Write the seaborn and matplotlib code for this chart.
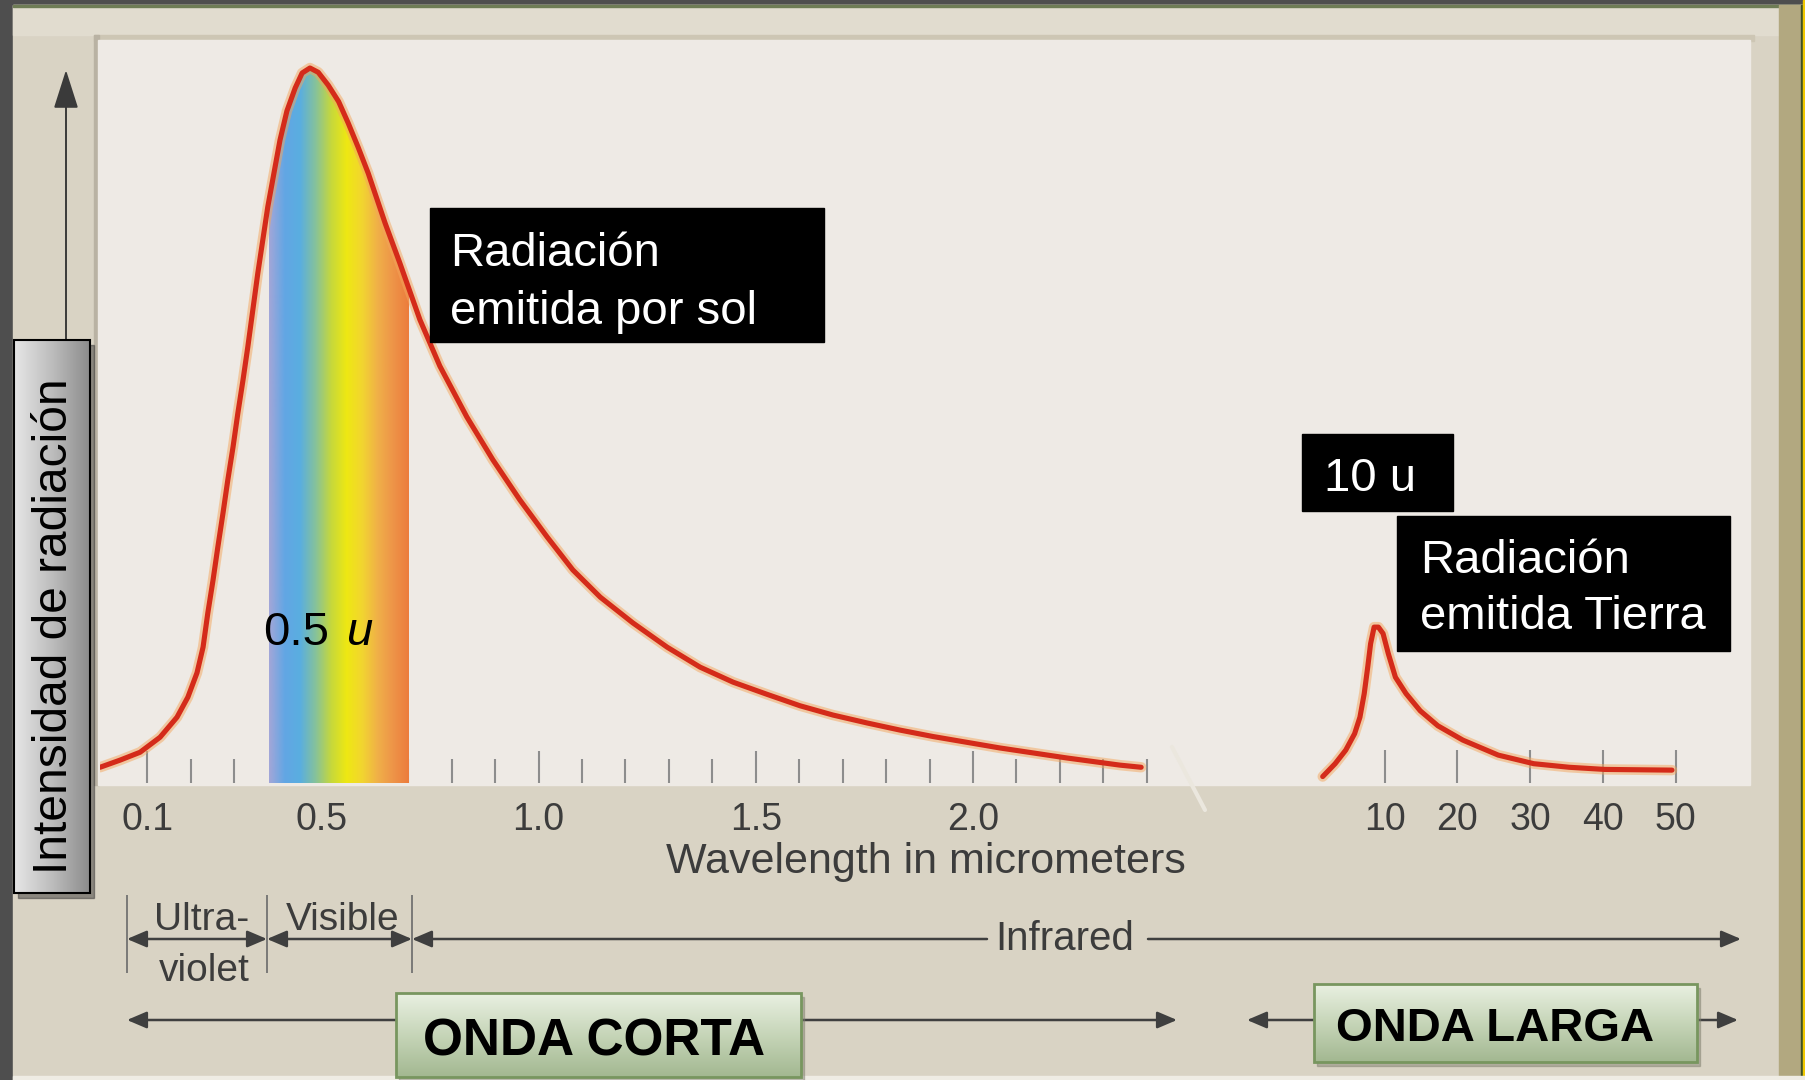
import numpy as np
import pandas as pd
import matplotlib.pyplot as plt
import seaborn as sns
from matplotlib.colors import LinearSegmentedColormap
from matplotlib.patches import Rectangle

# Sun emission curve: wavelength (micrometers) vs relative intensity
sun_wavelength = [-0.009, 0.037, 0.083, 0.129, 0.168, 0.193, 0.214, 0.228, 0.239, 0.251,
                  0.262, 0.274, 0.285, 0.297, 0.308, 0.320, 0.331, 0.354, 0.377, 0.405,
                  0.421, 0.440, 0.456, 0.474, 0.493, 0.516, 0.540, 0.562, 0.585, 0.608,
                  0.647, 0.681, 0.727, 0.773, 0.835, 0.895, 0.957, 1.020, 1.079, 1.142,
                  1.217, 1.296, 1.372, 1.448, 1.526, 1.602, 1.678, 1.756, 1.832, 1.908,
                  2.062, 2.216, 2.338, 2.387]
sun_intensity = [2.2, 3.2, 4.3, 6.4, 9.2, 12.0, 15.4, 19.0, 23.8, 28.4,
                 33.0, 37.8, 42.4, 47.0, 51.7, 56.4, 61.0, 71.3, 80.6, 89.9,
                 94.0, 97.2, 99.3, 100.0, 99.4, 97.6, 95.3, 92.3, 88.9, 85.3,
                 78.3, 72.7, 64.8, 58.3, 51.2, 45.2, 39.6, 34.4, 29.8, 26.0,
                 22.4, 19.0, 16.2, 14.1, 12.4, 10.8, 9.5, 8.4, 7.4, 6.5,
                 4.9, 3.5, 2.5, 2.2]

# Earth emission curve (long wave part of the axis)
earth_wavelength = [1.47, 3.18, 4.64, 5.86, 6.59, 7.18, 7.66, 8.06, 8.54, 9.13, 9.77,
                    10.49, 11.47, 12.93, 14.88, 17.31, 20.74, 25.61, 30.49, 35.36, 40.24, 49.5]
earth_intensity = [0.9, 2.7, 4.6, 6.9, 9.2, 12.5, 16.2, 19.5, 21.8, 21.8, 20.9,
                   18.1, 14.8, 12.5, 10.1, 8.0, 6.0, 3.9, 2.7, 2.2, 1.9, 1.8]

short_ticks = [0.1, 0.5, 1.0, 1.5, 2.0]
short_labels = ['0.1', '0.5', '1.0', '1.5', '2.0']
long_ticks = [10, 20, 30, 40, 50]
long_labels = ['10', '20', '30', '40', '50']

visible_band = (0.38, 0.70)
spectrum_colors = ['#a3a6d8', '#62a6e4', '#5aaee0', '#86c29a', '#c6d83c',
                   '#eee812', '#f2d530', '#f0b048', '#ee9448', '#ec7c3c']

W, H = 1806, 1080
sns.set_theme(style='white')
plt.rcParams['font.family'] = ['Liberation Sans', 'DejaVu Sans']

fig = plt.figure(figsize=(W / 100, H / 100), dpi=100)
fig.patch.set_facecolor('#4e4e4e')


def px_axes(x0, x1, y0, y1, z):
    # axes placed by pixel box, top-left origin
    return fig.add_axes([x0 / W, 1 - y1 / H, (x1 - x0) / W, (y1 - y0) / H], zorder=z)


# ---- background frame ----
bg = px_axes(0, W, 0, H, 0)
bg.axis('off')
bg.add_patch(Rectangle((13, 5), W - 13, H - 5, color='#d9d3c4'))
bg.add_patch(Rectangle((13, 5), W - 13, 30, color='#e1dccf'))
bg.add_patch(Rectangle((13, 5), W - 13, 2, color='#6e7c55'))
bg.add_patch(Rectangle((94, 35), 1660, 6, color='#cdc6b4'))
bg.add_patch(Rectangle((94, 35), 5, 750, color='#b9b2a3'))
bg.add_patch(Rectangle((98, 40), 1652, 745, color='#eeeae5'))
bg.add_patch(Rectangle((1779, 5), 22, H - 5, color='#b2a880'))
bg.add_patch(Rectangle((1801, 5), 2, H - 5, color='#3f5226'))
bg.add_patch(Rectangle((1803, 0), 3, H, color='#f0c800'))
bg.add_patch(Rectangle((13, H - 4), W - 13, 4, color='#efece4'))
# vertical axis arrow
bg.annotate('', xy=(66, 70), xytext=(66, 780),
            arrowprops=dict(arrowstyle='-|>,head_length=1.1,head_width=0.35', mutation_scale=22,
                            color='#3a3a3a', lw=1.4, shrinkA=0, shrinkB=0))
bg.set_xlim(0, W)
bg.set_ylim(H, 0)

# ---- short wave axes ----
y_bottom, y_scale, y_max = 783, 7.15, 103
y_top = y_bottom - y_max * y_scale
ax1 = px_axes(104 - 0.01 * 434.5, 104 + 2.45 * 434.5, y_top, y_bottom, 2)
ax1.set_facecolor('none')

grad = np.linspace(0, 1, 256).reshape(1, -1)
spec_cmap = LinearSegmentedColormap.from_list('spec', spectrum_colors)
im = ax1.imshow(grad, cmap=spec_cmap, extent=[visible_band[0], visible_band[1], 0, y_max],
                aspect='auto', origin='lower', interpolation='bilinear', zorder=1)
area = ax1.fill_between(sun_wavelength, sun_intensity, 0, color='none', lw=0)
im.set_clip_path(area.get_paths()[0], transform=ax1.transData)

sns.lineplot(x=sun_wavelength, y=sun_intensity, ax=ax1, color='#f3a65c', alpha=0.5,
             linewidth=7.5, sort=False, estimator=None, zorder=3)
sns.lineplot(x=sun_wavelength, y=sun_intensity, ax=ax1, color='#d42b1a',
             linewidth=3.7, sort=False, estimator=None, zorder=4)

minor = [round(v, 1) for v in np.arange(0.2, 2.45, 0.1) if round(v, 1) not in short_ticks]
ax1.set_xticks(short_ticks, short_labels)
ax1.set_xticks(minor, minor=True)
ax1.set_yticks([])
ax1.set_xlim(-0.01, 2.45)
ax1.set_ylim(0, y_max)
ax1.tick_params(axis='x', which='major', direction='in', bottom=True, length=23, width=1.5,
                color='#8d8d8d', labelsize=27, labelcolor='#3c3c3c', pad=14)
ax1.tick_params(axis='x', which='minor', direction='in', bottom=True, length=17, width=1.5,
                color='#8d8d8d')
ax1.set_xlabel('Wavelength in micrometers', fontsize=31, color='#3c3c3c')
ax1.xaxis.set_label_coords(0.773, -0.107)
ax1.xaxis.label.set_va('center')
for s in ax1.spines.values():
    s.set_visible(False)

# ---- long wave axes ----
ax2 = px_axes(1312, 1712, y_top, y_bottom, 2)
ax2.set_facecolor('none')
sns.lineplot(x=earth_wavelength, y=earth_intensity, ax=ax2, color='#f3a65c', alpha=0.5,
             linewidth=7.5, sort=False, estimator=None, zorder=3)
sns.lineplot(x=earth_wavelength, y=earth_intensity, ax=ax2, color='#d42b1a',
             linewidth=3.7, sort=False, estimator=None, zorder=4)
ax2.set_xticks(long_ticks, long_labels)
ax2.set_yticks([])
ax2.set_xlim(0, 55)
ax2.set_ylim(0, y_max)
ax2.tick_params(axis='x', which='major', direction='in', bottom=True, length=24, width=1.5,
                color='#8d8d8d', labelsize=27, labelcolor='#3c3c3c', pad=14)
for s in ax2.spines.values():
    s.set_visible(False)

# ---- overlay annotations ----
fg = px_axes(0, W, 0, H, 5)
fg.axis('off')

# axis break
fg.plot([1172, 1205], [747, 810], color='#ebe7de', lw=3)

# y label box
gray_cmap = LinearSegmentedColormap.from_list('g', ['#e6e6e6', '#bdbdbd', '#8c8c8c'])
fg.add_patch(Rectangle((18, 345), 76, 553, color='#2a2a2a', alpha=0.45, zorder=1))
fg.imshow(np.linspace(0, 1, 100).reshape(1, -1), cmap=gray_cmap, extent=[14, 90, 893, 340],
          aspect='auto', zorder=2)
fg.add_patch(Rectangle((14, 340), 76, 553, fill=False, ec='black', lw=1.5, zorder=3))
fg.text(55, 626, 'Intensidad de radiación', rotation=90, ha='center', va='center',
        fontsize=34.5, color='black', zorder=4)

# black label boxes
fg.add_patch(Rectangle((430, 208), 394, 134, color='black', zorder=3))
fg.text(450, 266, 'Radiación', color='white', fontsize=34, zorder=4)
fg.text(450, 324, 'emitida por sol', color='white', fontsize=34, zorder=4)
fg.add_patch(Rectangle((1302, 434), 151, 77, color='black', zorder=3))
fg.text(1324, 491, '10 u', color='white', fontsize=34, zorder=4)
fg.add_patch(Rectangle((1397, 516), 333, 135, color='black', zorder=3))
fg.text(1420, 573, 'Radiación', color='white', fontsize=34, zorder=4)
fg.text(1420, 629, 'emitida Tierra', color='white', fontsize=34, zorder=4)

fg.text(263, 645, '0.5', color='black', fontsize=34, zorder=4)
fg.text(346, 645, 'u', color='black', fontsize=34, style='italic', zorder=4)

# spectral regions
fg.vlines([127, 267, 412], 895, 973, color='#6a6a6a', lw=1.2)


def arrow(x0, x1, y, style):
    fg.annotate('', xy=(x1, y), xytext=(x0, y), zorder=0.8,
                arrowprops=dict(arrowstyle=style + ',head_length=0.75,head_width=0.32',
                                mutation_scale=16, color='#3f3f3f', lw=1.8,
                                shrinkA=0, shrinkB=0))


arrow(127, 267, 939, '<|-|>')
arrow(267, 412, 939, '<|-|>')
arrow(987, 412, 939, '-|>')
arrow(1148, 1741, 939, '-|>')
arrow(127, 1177, 1020, '<|-|>')
arrow(1247, 1738, 1020, '<|-|>')

txt = dict(ha='center', va='baseline', color='#3c3c3c', fontsize=28)
fg.text(202, 930, 'Ultra-', **txt)
fg.text(204, 981, 'violet', **txt)
fg.text(343, 930, 'Visible', **txt)
fg.text(1065, 950, 'Infrared', **{**txt, 'fontsize': 29})

# green wave boxes
green_cmap = LinearSegmentedColormap.from_list('gr', ['#e9f0e1', '#c6d5b8', '#a3b891'])


def green_box(x, y, w, h, label, size, cx, base):
    fg.add_patch(Rectangle((x + 3, y + 4), w, h, color='#7d7d6d', alpha=0.45, zorder=1))
    fg.imshow(np.linspace(0, 1, 100).reshape(-1, 1), cmap=green_cmap,
              extent=[x, x + w, y + h, y], aspect='auto', zorder=2)
    fg.add_patch(Rectangle((x, y), w, h, fill=False, ec='#78965f', lw=2, zorder=3))
    fg.text(cx, base, label, ha='center', va='baseline', fontsize=size, fontweight='bold',
            color='black', zorder=4)


green_box(396, 993, 405, 84, 'ONDA CORTA', 37, 594, 1055)
green_box(1314, 984, 383, 78, 'ONDA LARGA', 34, 1495, 1041)

fg.set_xlim(0, W)
fg.set_ylim(H, 0)

plt.savefig('out.png', dpi=100, facecolor=fig.get_facecolor())
